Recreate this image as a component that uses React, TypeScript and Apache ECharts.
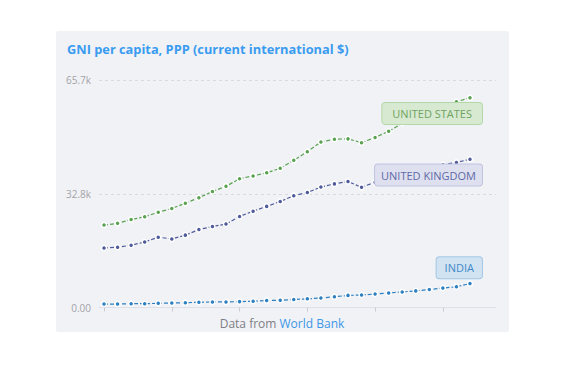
import React, { useEffect, useRef } from "react";
import * as echarts from "echarts";

const years = [
  1990, 1991, 1992, 1993, 1994, 1995, 1996, 1997, 1998, 1999,
  2000, 2001, 2002, 2003, 2004, 2005, 2006, 2007, 2008, 2009,
  2010, 2011, 2012, 2013, 2014, 2015, 2016, 2017,
];

// GNI per capita, PPP, thousands of current international $
const unitedStates = [
  23.8, 24.3, 25.4, 26.2, 27.5, 28.6, 30.1, 31.7, 33.5, 35.0,
  37.2, 38.0, 38.9, 40.2, 42.5, 45.0, 47.8, 48.6, 48.7, 47.6,
  49.1, 50.9, 53.2, 54.6, 56.2, 57.8, 59.4, 60.6,
];
const unitedKingdom = [
  17.2, 17.4, 18.0, 18.9, 20.3, 19.8, 20.9, 22.5, 23.4, 24.1,
  26.3, 27.8, 29.2, 30.6, 32.3, 33.2, 34.8, 35.7, 36.4, 34.7,
  36.2, 37.2, 38.2, 39.2, 40.2, 41.2, 41.9, 42.8,
];
const india = [
  1.0, 1.0, 1.1, 1.1, 1.2, 1.3, 1.4, 1.5, 1.6, 1.6,
  1.7, 1.8, 2.0, 2.1, 2.3, 2.5, 2.75, 3.1, 3.5, 3.6,
  3.9, 4.2, 4.5, 4.8, 5.2, 5.6, 6.0, 6.9,
];

const seriesNames = ["UNITED STATES", "UNITED KINGDOM", "INDIA"];
const yTickValues = [0, 32850, 65700];
const yTickLabels = ["0.00", "32.8k", "65.7k"];
const xTickYears = [1990, 1995, 2000, 2005, 2010, 2015];

const titleText = "GNI per capita, PPP (current international $)";

const styles = [
  { line: "#5ba353", text: "#6fa35f", bg: "#d7ead1", border: "#b3d8a8", pos: "bottom", pad: [4, 10] },
  { line: "#4f5b9a", text: "#5e69a6", bg: "#dee0ef", border: "#bfc3df", pos: "bottom", pad: [4, 6] },
  { line: "#2f80c1", text: "#3f8bc8", bg: "#d1e2f1", border: "#a3c7e7", pos: "top", pad: [4, 8] },
];

function makeSeries(name: string, vals: number[], idx: number) {
  const s = styles[idx];
  const data = vals.map((v, i) => {
    const item: any = { value: [years[i], v * 1000] };
    if (i === vals.length - 1) {
      item.label = {
        show: true,
        formatter: name,
        position: s.pos,
        distance: 2,
        align: "right",
        offset: [12, 0],
        fontFamily: "Open Sans",
        fontSize: 11,
        lineHeight: 13,
        color: s.text,
        backgroundColor: s.bg,
        borderColor: s.border,
        borderWidth: 1,
        borderRadius: 3,
        padding: s.pad,
      };
    }
    return item;
  });
  return {
    type: "line",
    name,
    data,
    symbol: "circle",
    symbolSize: 5,
    showAllSymbol: true,
    lineStyle: { color: s.line, width: 1.2, type: [4, 2] },
    itemStyle: { color: s.line, borderColor: "#ffffff", borderWidth: 1.5 },
    emphasis: { disabled: true },
  };
}

export default function App() {
  const ref = useRef<HTMLDivElement>(null);
  useEffect(() => {
    if (!ref.current) return;
    const chart = echarts.init(ref.current, undefined, { renderer: "svg" });
    chart.setOption({
      animation: false,
      title: {
        text: titleText,
        left: 62,
        top: 37,
        textStyle: {
          fontFamily: "Open Sans",
          fontWeight: "bold",
          fontSize: 12.8,
          color: "#3a9cf0",
        },
      },
      grid: { left: 99, right: 73, top: 80, bottom: 58.5 },
      xAxis: {
        type: "value",
        min: 1989.63,
        max: 2018.92,
        axisLine: { show: true, lineStyle: { color: "#dfe1e8", width: 1 } },
        axisTick: {
          show: true,
          customValues: xTickYears,
          length: 4,
          lineStyle: { color: "#c9cbd2" },
        },
        axisLabel: { show: false },
        splitLine: { show: false },
      },
      yAxis: {
        type: "value",
        min: yTickValues[0],
        max: yTickValues[yTickValues.length - 1],
        interval: yTickValues[1] - yTickValues[0],
        axisLine: { show: false },
        axisTick: { show: false },
        axisLabel: {
          formatter: (v: number) => {
            const i = yTickValues.indexOf(v);
            return i >= 0 ? yTickLabels[i] : "";
          },
          color: "#a3a3a8",
          fontFamily: "Open Sans",
          fontSize: 10,
          margin: 8,
        },
        splitLine: { lineStyle: { type: [3, 3], color: "#d9dae0" } },
      },
      graphic: [
        {
          type: "text",
          x: 282,
          y: 323,
          style: {
            text: "{a|Data from }{b|World Bank}",
            align: "center",
            verticalAlign: "middle",
            textAlign: "center",
            textVerticalAlign: "middle",
            rich: {
              a: { fill: "#7d7f85", fontFamily: "Open Sans", fontSize: 12 },
              b: { fill: "#3c97e8", fontFamily: "Open Sans", fontSize: 12 },
            },
          },
        },
      ],
      series: [
        makeSeries(seriesNames[0], unitedStates, 0),
        makeSeries(seriesNames[1], unitedKingdom, 1),
        makeSeries(seriesNames[2], india, 2),
      ],
    });
    return () => chart.dispose();
  }, []);

  return (
    <div style={{ position: "absolute", left: 0, top: 0, width: 569, height: 366, background: "#ffffff" }}>
      <div
        style={{
          position: "absolute",
          left: 56,
          top: 31,
          width: 453,
          height: 301,
          background: "#f1f2f6",
          borderRadius: 2,
        }}
      />
      <div ref={ref} style={{ position: "absolute", left: 0, top: 0, width: 569, height: 366 }} />
    </div>
  );
}
